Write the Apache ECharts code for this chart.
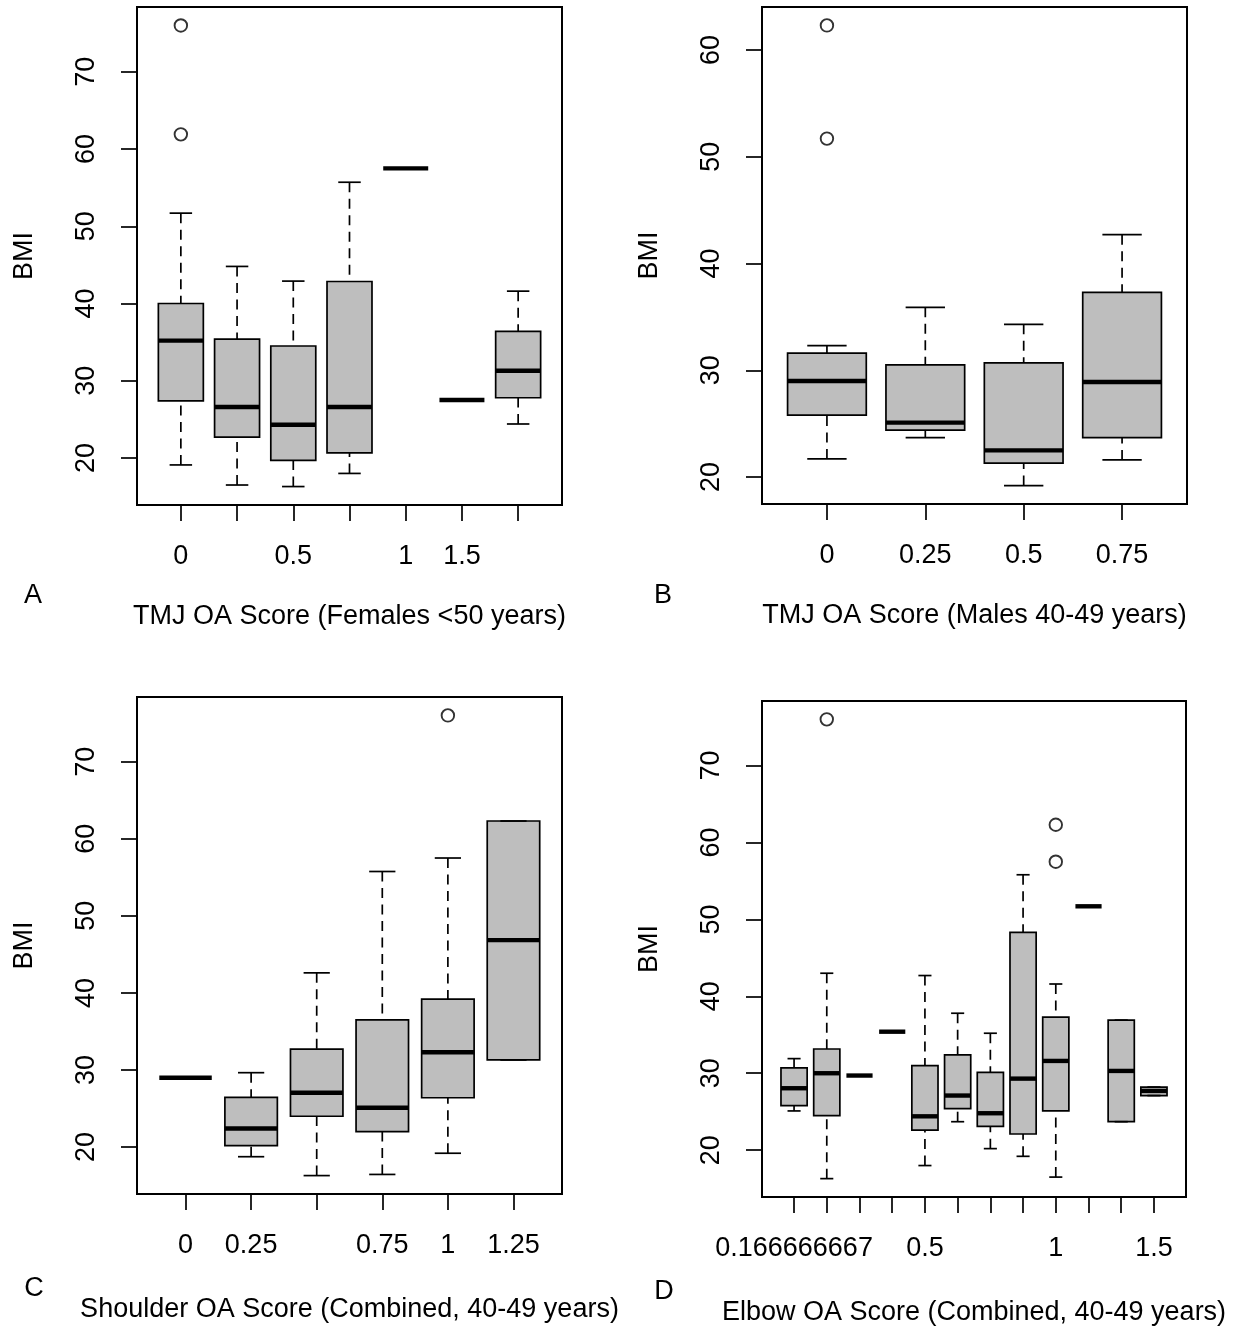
<!DOCTYPE html>
<html><head><meta charset="utf-8">
<script src="https://cdn.jsdelivr.net/npm/echarts@6/dist/echarts.min.js"></script>
<style>html,body{margin:0;padding:0;background:#fff}#chart{width:1241px;height:1328px}</style>
</head><body><div id="chart"></div>
<script>
// ---------- Panel A: TMJ OA Score (Females <50 years) ----------
const catsA = ['0','0.25','0.5','0.75','1','1.5','1.75'];
const tickLabelsA = ['0','','0.5','','1','1.5',''];
const lowA  = [19.1, 16.5, 16.3, 18.0, 57.5, 27.5, 24.4];
const q1A   = [27.4, 22.7, 19.7, 20.65, 57.5, 27.5, 27.8];
const medA  = [35.2, 26.6, 24.3, 26.6, 57.5, 27.5, 31.3];
const q3A   = [40.0, 35.4, 34.5, 42.85, 57.5, 27.5, 36.4];
const highA = [51.7, 44.8, 42.9, 55.7, 57.5, 27.5, 41.6];
const outPosA = [1, 1];
const outValA = [76.0, 61.9];

// ---------- Panel B: TMJ OA Score (Males 40-49 years) ----------
const catsB = ['0','0.25','0.5','0.75'];
const tickLabelsB = ['0','0.25','0.5','0.75'];
const lowB  = [21.7, 23.7, 19.2, 21.6];
const q1B   = [25.8, 24.4, 21.3, 23.7];
const medB  = [29.0, 25.1, 22.5, 28.9];
const q3B   = [31.6, 30.5, 30.7, 37.3];
const highB = [32.3, 35.9, 34.3, 42.7];
const outPosB = [1, 1];
const outValB = [62.3, 51.7];

// ---------- Panel C: Shoulder OA Score (Combined, 40-49 years) ----------
const catsC = ['0','0.25','0.5','0.75','1','1.25'];
const tickLabelsC = ['0','0.25','','0.75','1','1.25'];
const lowC  = [29.0, 18.75, 16.3, 16.45, 19.2, 31.3];
const q1C   = [29.0, 20.2, 24.0, 22.0, 26.4, 31.3];
const medC  = [29.0, 22.4, 27.05, 25.1, 32.3, 46.85];
const q3C   = [29.0, 26.45, 32.7, 36.5, 39.2, 62.3];
const highC = [29.0, 29.65, 42.6, 55.75, 57.5, 62.3];
const outPosC = [5];
const outValC = [76.0];

// ---------- Panel D: Elbow OA Score (Combined, 40-49 years) ----------
const catsD = ['0.166666667','0.25','0.333333333','0.416666667','0.5','0.583333333','0.666666667','0.833333333','1','1.166666667','1.333333333','1.5'];
const tickLabelsD = ['0.166666667','','','','0.5','','','','1','','','1.5'];
const lowD  = [25.1, 16.3, 29.7, 35.4, 18.0, 23.7, 20.2, 19.2, 16.5, 51.7, 23.7, 27.1];
const q1D   = [25.8, 24.5, 29.7, 35.4, 22.6, 25.4, 23.1, 22.1, 25.1, 51.7, 23.7, 27.1];
const medD  = [28.05, 30.0, 29.7, 35.4, 24.4, 27.1, 24.8, 29.3, 31.6, 51.7, 30.3, 27.7];
const q3D   = [30.7, 33.15, 29.7, 35.4, 31.0, 32.4, 30.1, 48.3, 37.3, 51.7, 36.9, 28.2];
const highD = [31.9, 43.0, 29.7, 35.4, 42.7, 37.8, 35.2, 55.8, 41.6, 51.7, 36.9, 28.2];
const outPosD = [2, 9, 9];
const outValD = [76.0, 62.3, 57.5];

const yTicksACD = [20, 30, 40, 50, 60, 70];
const yTicksB = [20, 30, 40, 50, 60];

const FONT = '"Liberation Sans", Arial, Helvetica, sans-serif';
const FS = 27;

const panels = [
  {cats: catsA, tl: tickLabelsA, lo: lowA, q1: q1A, md: medA, q3: q3A, hi: highA, op: outPosA, ov: outValA, yt: yTicksACD,
   xName: 'TMJ OA Score (Females <50 years)', letter: 'A',
   grid: {left: 137, top: 7, width: 425, height: 498}, nameGap: 98, letterPos: [33, 596]},
  {cats: catsB, tl: tickLabelsB, lo: lowB, q1: q1B, md: medB, q3: q3B, hi: highB, op: outPosB, ov: outValB, yt: yTicksB,
   xName: 'TMJ OA Score (Males 40-49 years)', letter: 'B',
   grid: {left: 762, top: 7, width: 425, height: 497}, nameGap: 98, letterPos: [663, 596]},
  {cats: catsC, tl: tickLabelsC, lo: lowC, q1: q1C, md: medC, q3: q3C, hi: highC, op: outPosC, ov: outValC, yt: yTicksACD,
   xName: 'Shoulder OA Score (Combined, 40-49 years)', letter: 'C',
   grid: {left: 137, top: 697, width: 425, height: 497}, nameGap: 102, letterPos: [34, 1289]},
  {cats: catsD, tl: tickLabelsD, lo: lowD, q1: q1D, md: medD, q3: q3D, hi: highD, op: outPosD, ov: outValD, yt: yTicksACD,
   xName: 'Elbow OA Score (Combined, 40-49 years)', letter: 'D',
   grid: {left: 762, top: 701, width: 424, height: 496}, nameGap: 102, letterPos: [664, 1292]}
];

function renderBox(params, api) {
  const x = api.value(0), lo = api.value(1), q1 = api.value(2), md = api.value(3), q3 = api.value(4), hi = api.value(5);
  const c = (dx, v) => api.coord([x + dx, v]);
  const kids = [];
  const wStyle = {stroke: '#000', lineWidth: 1.7, lineDash: [10, 6.5], fill: null};
  const sStyle = {stroke: '#000', lineWidth: 1.7, fill: null};
  const seg = (a, b, st) => kids.push({type: 'line', shape: {x1: a[0], y1: a[1], x2: b[0], y2: b[1]}, style: st});
  if (hi > q3) seg(c(0, hi), c(0, q3), wStyle);
  if (lo < q1) seg(c(0, lo), c(0, q1), wStyle);
  if (q3 > q1) {
    const tl = c(-0.4, q3), br = c(0.4, q1);
    kids.push({type: 'rect', shape: {x: tl[0], y: tl[1], width: br[0] - tl[0], height: br[1] - tl[1]},
      style: {fill: '#bebebe', stroke: '#000', lineWidth: 1.7}});
  }
  if (hi > lo) {
    seg(c(-0.2, hi), c(0.2, hi), sStyle);
    seg(c(-0.2, lo), c(0.2, lo), sStyle);
  }
  seg(c(-0.4, md), c(0.4, md), {stroke: '#000', lineWidth: 4.4, lineCap: 'butt', fill: null});
  return {type: 'group', children: kids};
}

const option = {animation: false, backgroundColor: '#fff', grid: [], xAxis: [], yAxis: [], series: [], graphic: []};

panels.forEach((p, i) => {
  const n = p.cats.length;
  const positions = p.cats.map((_, k) => k + 1);
  const allVals = p.lo.concat(p.hi, p.ov);
  const dMin = Math.min(...allVals), dMax = Math.max(...allVals);
  const pad = 0.04 * (dMax - dMin);
  option.grid.push(Object.assign({show: true, borderColor: '#000', borderWidth: 2, backgroundColor: 'transparent'}, p.grid));
  const labelPositions = positions.filter(k => p.tl[k - 1] !== '');
  option.xAxis.push({
    type: 'value', gridIndex: i,
    min: 0.5 - 0.04 * n, max: n + 0.5 + 0.04 * n,
    splitLine: {show: false}, axisLine: {show: false},
    axisTick: {show: true, length: 16, lineStyle: {color: '#000', width: 1.7}, customValues: positions},
    axisLabel: {show: true, margin: 38, fontSize: FS, color: '#000', fontFamily: FONT,
      customValues: labelPositions, formatter: v => p.tl[Math.round(v) - 1]},
    name: p.xName, nameLocation: 'middle', nameGap: p.nameGap,
    nameTextStyle: {fontSize: FS, color: '#000', fontFamily: FONT}
  });
  option.yAxis.push({
    type: 'value', gridIndex: i,
    min: dMin - pad, max: dMax + pad,
    splitLine: {show: false}, axisLine: {show: false},
    axisTick: {show: true, length: 16, lineStyle: {color: '#000', width: 1.7}, customValues: p.yt},
    axisLabel: {show: true, margin: 37, rotate: 90, fontSize: FS, color: '#000', fontFamily: FONT,
      customValues: p.yt, formatter: v => String(v)},
    name: 'BMI', nameLocation: 'middle', nameRotate: 90, nameGap: 99,
    nameTextStyle: {fontSize: FS, color: '#000', fontFamily: FONT}
  });
  option.series.push({
    type: 'custom', xAxisIndex: i, yAxisIndex: i, silent: true,
    renderItem: renderBox,
    encode: {x: 0, y: [1, 2, 3, 4, 5]},
    data: positions.map((k, j) => [k, p.lo[j], p.q1[j], p.md[j], p.q3[j], p.hi[j]])
  });
  option.series.push({
    type: 'scatter', xAxisIndex: i, yAxisIndex: i, silent: true,
    symbol: 'circle', symbolSize: 12.5,
    itemStyle: {color: '#fff', borderColor: '#000', borderWidth: 1.9},
    data: p.op.map((k, j) => [k, p.ov[j]])
  });
  option.graphic.push({
    type: 'text', x: p.letterPos[0], y: p.letterPos[1], silent: true,
    style: {text: p.letter, fontSize: FS, fontFamily: FONT, fill: '#000', align: 'center', verticalAlign: 'middle'}
  });
});

const chart = echarts.init(document.getElementById('chart'), null, {renderer: 'canvas'});
chart.setOption(option);
</script></body></html>
